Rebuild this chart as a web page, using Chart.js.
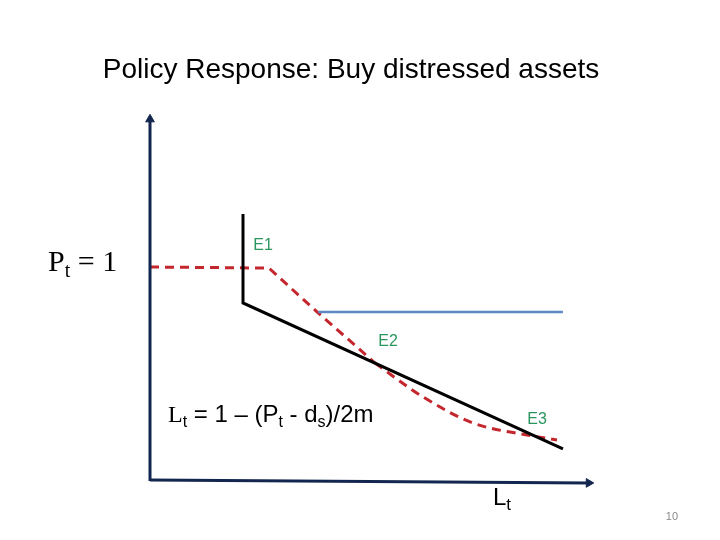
<!DOCTYPE html>
<html>
<head>
<meta charset="utf-8">
<script src="https://cdn.jsdelivr.net/npm/chart.js@4.4.1/dist/chart.umd.min.js"></script>
<style>
  html, body { margin: 0; padding: 0; background: #fff; }
  #wrap { width: 720px; height: 540px; }
</style>
</head>
<body>
<div id="wrap"><canvas id="slideChart" width="720" height="540"></canvas></div>
<script>
// Diagram data (L on x, P on y)
const axisYL = [0, 0];
const axisYP = [0, 1.69];
const axisXL = [0, 9.86];
const axisXP = [0.005, -0.009];

// black kinked line: vertical then downward slope
const supplyL = [2.09, 2.09, 9.28];
const supplyP = [1.248, 0.832, 0.15];

// blue horizontal
const blueL = [3.78, 9.28];
const blueP = [0.79, 0.79];

// red dashed: flat at Pt = 1, then straight drop, then curved tail
const redStraightL = [0, 2.674, 3.753, 4.652, 5.056];
const redStraightP = [1.0, 0.995, 0.79, 0.626, 0.551];
const redCurveL = [5.056, 6.135, 7.258, 8.472, 9.146];
const redCurveP = [0.551, 0.393, 0.271, 0.215, 0.192];

const eqLabels = ['E1', 'E2', 'E3'];
const eqL = [2.54, 5.35, 8.70];
const eqP = [1.098, 0.65, 0.285];

function pts(xs, ys) {
    return xs.map((x, i) => ({ x: x, y: ys[i] }));
}

const NAVY = '#13264f';
const RED = '#c3262c';

// draws text made of runs, some of them subscripts
function drawRich(ctx, x, y, parts) {
    let cx = x;
    parts.forEach(p => {
        ctx.font = p.font;
        ctx.fillText(p.t, cx, y + (p.dy || 0));
        cx += ctx.measureText(p.t).width;
    });
}

const textPlugin = {
    id: 'slideText',
    afterDraw(chart) {
        const ctx = chart.ctx;
        const xs = chart.scales.x, ys = chart.scales.y;
        ctx.save();
        ctx.textBaseline = 'alphabetic';

        // title
        ctx.fillStyle = '#000';
        ctx.textAlign = 'center';
        ctx.font = '28px "Liberation Sans", Arial, sans-serif';
        ctx.fillText('Policy Response: Buy distressed assets', 351, 78);

        ctx.textAlign = 'left';
        const serif = '"Liberation Serif", "Times New Roman", serif';
        const sans = '"Liberation Sans", Arial, sans-serif';

        // Pt = 1
        drawRich(ctx, 48, 271, [
            { t: 'P', font: '30px ' + serif },
            { t: 't', font: '20px ' + serif, dy: 6 },
            { t: ' = 1', font: '30px ' + serif }
        ]);

        // formula
        drawRich(ctx, 168, 422, [
            { t: 'L', font: '24px ' + serif },
            { t: 't', font: '16px ' + sans, dy: 5 },
            { t: ' = 1 \u2013 (P', font: '24px ' + sans },
            { t: 't', font: '16px ' + sans, dy: 5 },
            { t: ' - d', font: '24px ' + sans },
            { t: 's', font: '16px ' + sans, dy: 5 },
            { t: ')/2m', font: '24px ' + sans }
        ]);

        // axis label
        drawRich(ctx, 493, 505, [
            { t: 'L', font: '24px ' + sans },
            { t: 't', font: '17px ' + sans, dy: 5 }
        ]);

        // equilibrium labels
        ctx.fillStyle = '#2b9560';
        ctx.textAlign = 'center';
        ctx.textBaseline = 'middle';
        ctx.font = '16px ' + sans;
        eqLabels.forEach((lab, i) => {
            ctx.fillText(lab, xs.getPixelForValue(eqL[i]), ys.getPixelForValue(eqP[i]));
        });

        // slide number
        ctx.fillStyle = '#8a8a8a';
        ctx.textAlign = 'right';
        ctx.textBaseline = 'alphabetic';
        ctx.font = '11px ' + sans;
        ctx.fillText('10', 678, 520);
        ctx.restore();
    }
};

const ctx = document.getElementById('slideChart');
new Chart(ctx, {
    type: 'scatter',
    data: {
        datasets: [
            {
                data: pts(axisYL, axisYP),
                showLine: true,
                borderColor: NAVY,
                borderWidth: 3,
                pointStyle: 'triangle',
                pointRadius: [0, 5],
                pointRotation: 0,
                pointBackgroundColor: NAVY,
                pointBorderColor: NAVY,
                pointBorderWidth: 1
            },
            {
                data: pts(axisXL, axisXP),
                showLine: true,
                borderColor: NAVY,
                borderWidth: 3,
                pointStyle: 'triangle',
                pointRadius: [0, 5],
                pointRotation: 90,
                pointBackgroundColor: NAVY,
                pointBorderColor: NAVY,
                pointBorderWidth: 1
            },
            {
                data: pts(blueL, blueP),
                showLine: true,
                borderColor: '#5d8ac3',
                borderWidth: 2.5,
                pointRadius: 0
            },
            {
                data: pts(supplyL, supplyP),
                showLine: true,
                borderColor: '#000',
                borderWidth: 3,
                borderJoinStyle: 'miter',
                pointRadius: 0
            },
            {
                data: pts(redStraightL, redStraightP),
                showLine: true,
                borderColor: RED,
                borderWidth: 3,
                borderDash: [9, 6],
                tension: 0,
                pointRadius: 0
            },
            {
                data: pts(redCurveL, redCurveP),
                showLine: true,
                borderColor: RED,
                borderWidth: 3,
                borderDash: [9, 6],
                cubicInterpolationMode: 'monotone',
                pointRadius: 0
            }
        ]
    },
    options: {
        responsive: false,
        animation: false,
        layout: { padding: 0, autoPadding: false },
        plugins: {
            legend: { display: false },
            tooltip: { enabled: false }
        },
        scales: {
            x: { type: 'linear', display: false, min: -3.3708, max: 12.809 },
            y: { type: 'linear', display: false, min: -0.2757, max: 2.2477 }
        }
    },
    plugins: [textPlugin]
});
</script>
</body>
</html>
